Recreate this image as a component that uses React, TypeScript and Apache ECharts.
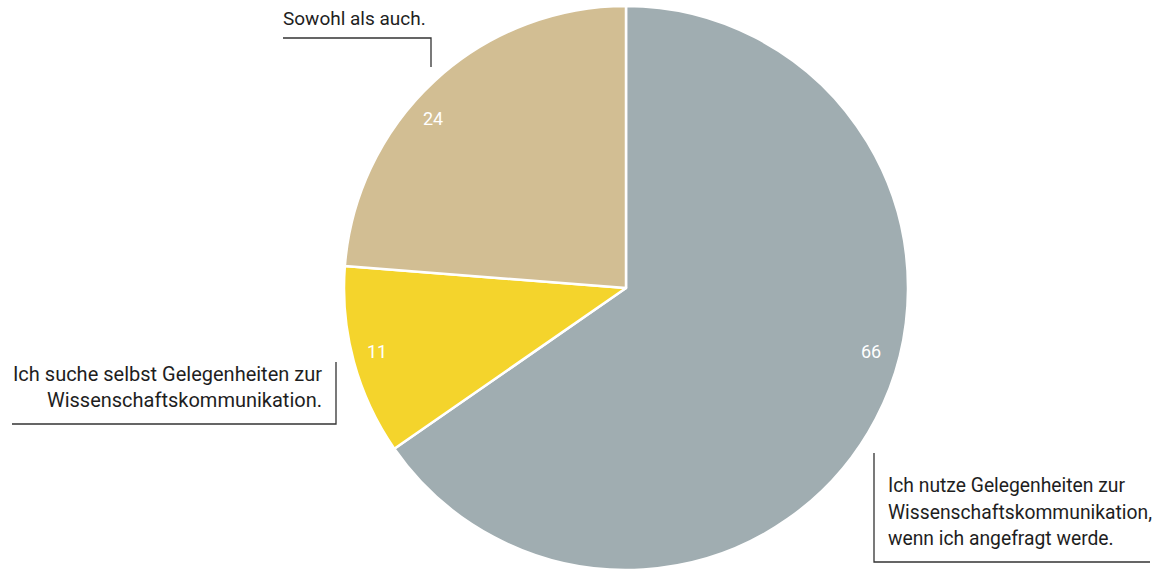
import React, { useEffect, useRef } from "react";
import * as echarts from "echarts";

const categories = [
  "Ich nutze Gelegenheiten zur\nWissenschaftskommunikation,\nwenn ich angefragt werde.",
  "Ich suche selbst Gelegenheiten zur\nWissenschaftskommunikation.",
  "Sowohl als auch.",
];
const values = [66, 11, 24];
const colors = ["#a0adb1", "#f4d42c", "#d2be93"];

// label layout (positions / sizes of annotations)
const valueLabelPos = [
  [871, 351],
  [377, 351],
  [433, 118],
];
const nameLabelLayout = [
  { x: 888, y: 512, align: "left", size: 19.3, line: [[874, 453], [874, 562], [1150, 562]] },
  { x: 322, y: 387, align: "right", size: 20, line: [[336, 362], [336, 424], [12, 424]] },
  { x: 283, y: 18, align: "left", size: 19, line: [[431, 67], [431, 38], [283, 38]] },
];

export default function App() {
  const ref = useRef<HTMLDivElement>(null);
  useEffect(() => {
    const chart = echarts.init(ref.current!, null, { renderer: "svg" });
    const data = values.map((v, i) => ({
      name: categories[i],
      value: v,
      itemStyle: { color: colors[i] },
    }));
    chart.setOption({
      animation: false,
      textStyle: { fontFamily: "Roboto" },
      series: [
        {
          type: "pie",
          center: [626, 288],
          radius: [0, 282],
          startAngle: 90,
          clockwise: true,
          avoidLabelOverlap: false,
          silent: true,
          itemStyle: { borderColor: "#ffffff", borderWidth: 2.5 },
          label: {
            show: true,
            position: "inside",
            formatter: "{c}",
            color: "#ffffff",
            fontSize: 18,
            fontFamily: "Roboto",
          },
          labelLine: { show: false },
          labelLayout: (p: any) => ({
            x: valueLabelPos[p.dataIndex][0],
            y: valueLabelPos[p.dataIndex][1],
            align: "center",
            verticalAlign: "middle",
          }),
          data,
        },
        {
          type: "pie",
          center: [626, 288],
          radius: [0, 282],
          startAngle: 90,
          clockwise: true,
          avoidLabelOverlap: false,
          silent: true,
          z: 3,
          itemStyle: { color: "rgba(0,0,0,0)", borderWidth: 0 },
          emphasis: { disabled: true },
          label: {
            show: true,
            position: "outside",
            formatter: "{b}",
            color: "#1e1e1e",
            fontSize: 20,
            lineHeight: 26.5,
            fontFamily: "Roboto",
          },
          labelLine: {
            show: true,
            lineStyle: { color: "#333333", width: 1.3 },
          },
          labelLayout: (p: any) => {
            const l = nameLabelLayout[p.dataIndex];
            return {
              x: l.x,
              y: l.y,
              align: l.align,
              verticalAlign: "middle",
              fontSize: l.size,
              labelLinePoints: l.line,
            };
          },
          data: values.map((v, i) => ({
            name: categories[i],
            value: v,
            label: { fontSize: nameLabelLayout[i].size },
          })),
        },
      ],
    });
    return () => chart.dispose();
  }, []);
  return (
    <div
      ref={ref}
      style={{ position: "fixed", left: 0, top: 0, width: 1159, height: 569, background: "#ffffff" }}
    />
  );
}
